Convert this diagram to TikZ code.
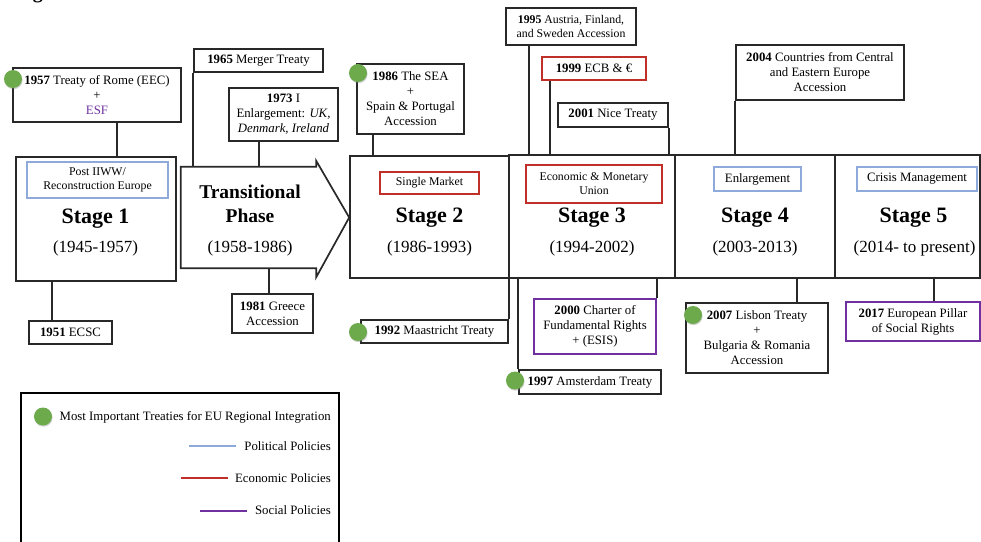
\documentclass[tikz,border=0pt]{standalone}
\usepackage{fontspec}
\setmainfont{Liberation Serif}
\usetikzlibrary{shadows}
\definecolor{edge}{RGB}{40,40,40}
\definecolor{polblue}{RGB}{142,170,219}
\definecolor{ecored}{RGB}{192,48,40}
\definecolor{socpurple}{RGB}{112,48,160}
\definecolor{dotgreen}{RGB}{108,170,76}
\begin{document}
\begin{tikzpicture}[x=1pt,y=-1pt,
  box/.style={draw=edge, line width=1.5pt, inner sep=0pt, align=center, font=\fontsize{12.8}{15}\selectfont},
  smallbox/.style={box, font=\fontsize{11.8}{14.5}\selectfont},
  stagebox/.style={draw=edge, line width=1.7pt, inner sep=0pt},
  lab/.style={draw, line width=1.3pt, inner sep=0pt, align=center, font=\fontsize{11.8}{14}\selectfont},
  stagetxt/.style={anchor=base, inner sep=0pt, font=\fontsize{22}{26}\selectfont\bfseries},
  yeartxt/.style={anchor=base, inner sep=0pt, font=\fontsize{17}{20}\selectfont},
  conn/.style={draw=edge, line width=1.6pt},
  dot/.style={circle, fill=dotgreen, inner sep=0pt, minimum size=18pt,
    drop shadow={opacity=0.35, shadow xshift=0.6pt, shadow yshift=-1.2pt}},
  legline/.style={line width=2.2pt},
  legtxt/.style={anchor=east, inner sep=0pt, font=\fontsize{12.8}{15}\selectfont}]
\useasboundingbox (0,0) rectangle (981,541);
\clip (0,0) rectangle (981,541);
\fill[white] (0,0) rectangle (981,541);

% title fragment
\node[anchor=base west, inner sep=0pt, font=\fontsize{20}{24}\selectfont\bfseries] (title) at (15,-1.5) {Figure};

% stage boxes
\node[stagebox, minimum width=160pt, minimum height=124pt] (s1) at (96,219) {};
\node[stagebox, minimum width=159pt, minimum height=122pt] (s2) at (429.5,217) {};
\node[stagebox, minimum width=166pt, minimum height=123pt] (s3) at (592,216.5) {};
\node[stagebox, minimum width=160pt, minimum height=123pt] (s4) at (755,216.5) {};
\node[stagebox, minimum width=145pt, minimum height=123pt] (s5) at (907.5,216.5) {};

% transitional arrow
\node[inner sep=0pt, minimum width=135pt, minimum height=101pt] (trans) at (248.5,217.5) {};
\draw[stagebox] (trans.north west) -- (trans.north east) -- ([yshift=6pt]trans.north east)
  -- ([xshift=33pt]trans.east) -- ([yshift=-9pt]trans.south east) -- (trans.south east)
  -- (trans.south west) -- cycle;

% stage labels
\node[lab, draw=polblue, minimum width=141pt, minimum height=36pt] (l1) at (97.5,180) {Post IIWW/\\Reconstruction Europe};
\node[lab, draw=ecored, minimum width=99pt, minimum height=22pt] (l2) at (429.5,183) {Single Market};
\node[lab, draw=ecored, minimum width=136pt, minimum height=38pt] (l3) at (594,184) {Economic \& Monetary\\Union};
\node[lab, draw=polblue, minimum width=87pt, minimum height=24pt, font=\fontsize{12.8}{15}\selectfont] (l4) at (757.5,179) {Enlargement};
\node[lab, draw=polblue, minimum width=120pt, minimum height=24pt, font=\fontsize{12.8}{15}\selectfont] (l5) at (917,179) {Crisis Management};

% stage texts
\node[stagetxt] (t1) at (95.5,223) {Stage 1};
\node[yeartxt] (y1) at (95.5,252) {(1945-1957)};
\node[anchor=base, inner sep=0pt, font=\fontsize{19.5}{23}\selectfont\bfseries] (tt1) at (250,198) {Transitional};
\node[anchor=base, inner sep=0pt, font=\fontsize{19.5}{23}\selectfont\bfseries] (tt2) at (250,222) {Phase};
\node[yeartxt] (ty) at (250,252) {(1958-1986)};
\node[stagetxt] (t2) at (429.5,222.5) {Stage 2};
\node[yeartxt] (y2) at (429.5,252) {(1986-1993)};
\node[stagetxt] (t3) at (592,222.5) {Stage 3};
\node[yeartxt] (y3) at (592,252) {(1994-2002)};
\node[stagetxt] (t4) at (755,222.5) {Stage 4};
\node[yeartxt] (y4) at (755,252) {(2003-2013)};
\node[stagetxt] (t5) at (913.5,222.5) {Stage 5};
\node[yeartxt] (y5) at (914.5,252) {(2014- to present)};

% top event boxes
\node[box, minimum width=168pt, minimum height=54pt] (b1957) at (97,95) {\textbf{1957} Treaty of Rome (EEC)\\+\\\textcolor{socpurple}{ESF}};
\node[box, minimum width=129pt, minimum height=23pt] (b1965) at (258.5,60.5) {\textbf{1965} Merger Treaty};
\node[box, minimum width=109pt, minimum height=53pt] (b1973) at (283.5,114.5) {\textbf{1973} I\\Enlargement: \textit{UK,}\\\textit{Denmark, Ireland}};
\node[box, minimum width=107pt, minimum height=70pt] (b1986) at (410.5,99) {\textbf{1986} The SEA\\+\\Spain \& Portugal\\Accession};
\node[smallbox, minimum width=130pt, minimum height=37pt] (b1995) at (571,26.5) {\textbf{1995} Austria, Finland,\\and Sweden Accession};
\node[box, draw=ecored, minimum width=104pt, minimum height=23pt] (b1999) at (594,68.5) {\textbf{1999} ECB \& €};
\node[box, minimum width=110pt, minimum height=24pt] (b2001) at (613,115) {\textbf{2001} Nice Treaty};
\node[box, minimum width=168pt, minimum height=55pt] (b2004) at (820,72.5) {\textbf{2004} Countries from Central\\and Eastern Europe\\Accession};

% bottom event boxes
\node[box, minimum width=83pt, minimum height=23pt] (b1951) at (70.5,332.5) {\textbf{1951} ECSC};
\node[box, minimum width=81pt, minimum height=39pt] (b1981) at (272.5,313.5) {\textbf{1981} Greece\\Accession};
\node[box, minimum width=147pt, minimum height=23pt] (b1992) at (434.5,331.5) {\textbf{1992} Maastricht Treaty};
\node[box, draw=socpurple, minimum width=122pt, minimum height=55pt] (b2000) at (595,326.5) {\textbf{2000} Charter of\\Fundamental Rights\\+ (ESIS)};
\node[box, minimum width=142pt, minimum height=24pt] (b1997) at (590,382) {\textbf{1997} Amsterdam Treaty};
\node[box, minimum width=142pt, minimum height=70pt] (b2007) at (757,338) {\textbf{2007} Lisbon Treaty\\+\\Bulgaria \& Romania\\Accession};
\node[box, draw=socpurple, minimum width=134pt, minimum height=39pt] (b2017) at (913,321.5) {\textbf{2017} European Pillar\\of Social Rights};

% connectors (top)
\coordinate (c57) at ([xshift=20pt]b1957.south);
\draw[conn] (c57) -- (c57 |- s1.north);
\draw[conn] (b1965.south west) -- (b1965.south west |- trans.north);
\coordinate (c73) at ([xshift=-24.5pt]b1973.south);
\draw[conn] (c73) -- (c73 |- trans.north);
\coordinate (c86) at ([xshift=-37.5pt]b1986.south);
\draw[conn] (c86) -- (c86 |- s2.north);
\coordinate (c95) at ([xshift=-42pt]b1995.south);
\draw[conn] (c95) -- (c95 |- s3.north);
\coordinate (c99) at ([xshift=-44pt]b1999.south);
\draw[conn] (c99) -- (c99 |- s3.north);
\draw[conn] (b2001.south east) -- (b2001.south east |- s3.north);
\draw[conn] (b2004.south west) -- (b2004.south west |- s4.north);

% connectors (bottom)
\coordinate (c51) at ([xshift=-18.5pt]b1951.north);
\draw[conn] (c51) -- (c51 |- s1.south);
\coordinate (c81) at ([xshift=-3.5pt]b1981.north);
\draw[conn] (c81) -- (c81 |- trans.south);
\draw[conn] (b1992.north east) -- (b1992.north east |- s2.south);
\draw[conn] (b1997.north west) -- (b1997.north west |- s3.south);
\draw[conn] (b2000.north east) -- (b2000.north east |- s3.south);
\coordinate (c07) at ([xshift=40pt]b2007.north);
\draw[conn] (c07) -- (c07 |- s4.south);
\coordinate (c17) at ([xshift=21pt]b2017.north);
\draw[conn] (c17) -- (c17 |- s5.south);

% green dots
\node[dot] (d1957) at (13,79) {};
\node[dot] (d1986) at (358,73) {};
\node[dot] (d1992) at (358,332) {};
\node[dot] (d1997) at (515,380.5) {};
\node[dot] (d2007) at (693,315) {};

% legend
\node[draw=black, line width=2.4pt, inner sep=0pt, minimum width=318pt, minimum height=177pt] (leg) at (180,481.5) {};
\node[dot] (ldot) at (43,416.5) {};
\node[legtxt] (lt0) at (331,417) {Most Important Treaties for EU Regional Integration};
\node[legtxt] (lt1) at (331,446) {Political Policies};
\node[legtxt] (lt2) at (331,478) {Economic Policies};
\node[legtxt] (lt3) at (331,510.5) {Social Policies};
\draw[legline, polblue] (189,446) -- (236,446);
\draw[legline, ecored] (181,478) -- (228,478);
\draw[legline, socpurple] (200,511) -- (247,511);
\end{tikzpicture}
\end{document}
